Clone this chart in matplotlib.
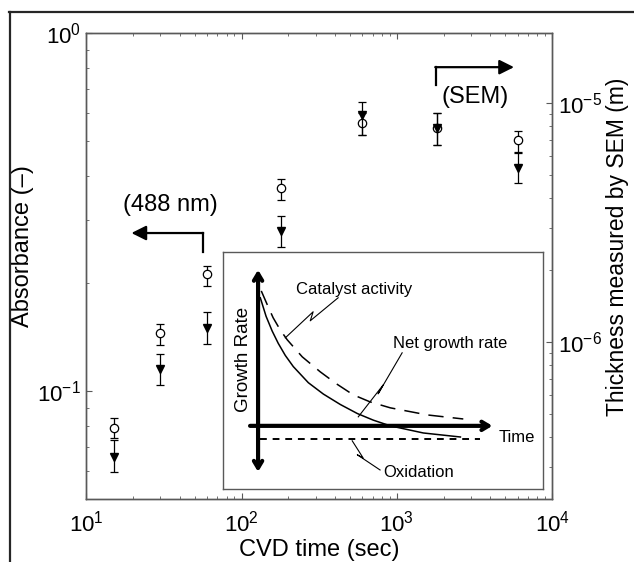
import numpy as np
import matplotlib
matplotlib.use("Agg")
import matplotlib.pyplot as plt
from matplotlib.lines import Line2D

plt.rcParams['font.family'] = ['Liberation Sans', 'DejaVu Sans']
plt.rcParams['mathtext.fontset'] = 'custom'
plt.rcParams['mathtext.rm'] = 'Liberation Sans'
plt.rcParams['mathtext.it'] = 'Liberation Sans:italic'
plt.rcParams['mathtext.bf'] = 'Liberation Sans:bold'

# CVD time (sec)
cvd_time = [15, 30, 60, 180, 600, 1800, 6000]

# absorbance at 488 nm (left axis), with error bar ends
absorbance = [0.0788, 0.145, 0.212, 0.370, 0.561, 0.544, 0.504]
absorbance_low = [0.074, 0.135, 0.197, 0.343, 0.520, 0.488, 0.463]
absorbance_high = [0.0841, 0.154, 0.224, 0.392, 0.599, 0.599, 0.533]

# thickness measured by SEM (m, right axis), with error bar ends
thickness = [3.30e-7, 7.71e-7, 1.146e-6, 2.91e-6, 8.91e-6, 7.86e-6, 5.35e-6]
thickness_low = [2.86e-7, 6.61e-7, 9.82e-7, 2.49e-6, 7.35e-6, 6.67e-6, 4.63e-6]
thickness_high = [3.89e-7, 8.91e-7, 1.337e-6, 3.37e-6, 1.01e-5, 9.08e-6, 6.24e-6]

# schematic inset (arbitrary time / rate units)
catalyst_t = [0.010, 0.029, 0.047, 0.069, 0.091, 0.138, 0.194, 0.244, 0.297, 0.350, 0.413, 0.529, 0.641]
catalyst_rate = [0.569, 0.510, 0.456, 0.405, 0.363, 0.291, 0.228, 0.178, 0.131, 0.101, 0.076, 0.046, 0.029]
net_t = [0.007, 0.025, 0.044, 0.063, 0.085, 0.110, 0.157, 0.204, 0.257, 0.310, 0.360, 0.413, 0.516, 0.632]
net_rate = [0.540, 0.462, 0.400, 0.348, 0.297, 0.250, 0.182, 0.134, 0.090, 0.052, 0.024, 0.000, -0.030, -0.047]
oxidation_t = [0.007, 0.694]
oxidation_rate = [-0.055, -0.055]


def err(v, lo, hi):
    v = np.array(v)
    return [v - np.array(lo), np.array(hi) - v]


fig = plt.figure(figsize=(6.34, 5.62), dpi=100)
ax = fig.add_axes([0.136, 0.112, 0.735, 0.829])
ax2 = ax.twinx()

frame_col = '0.35'
ax.errorbar(cvd_time, absorbance, yerr=err(absorbance, absorbance_low, absorbance_high),
            fmt='o', mfc='white', mec='black', mew=0.9, ms=6, ecolor='black',
            elinewidth=0.9, capsize=3, capthick=0.9, zorder=3)
ax2.errorbar(cvd_time, thickness, yerr=err(thickness, thickness_low, thickness_high),
             fmt='v', mfc='black', mec='black', ms=6, ecolor='black',
             elinewidth=0.9, capsize=3, capthick=0.9, zorder=3)

ax.set_xscale('log')
ax.set_yscale('log')
ax2.set_yscale('log')
ax.set_xlim(10, 1e4)
ax.set_ylim(0.05, 1)
ax2.set_ylim(2.2e-7, 1.96e-5)

for a in (ax, ax2):
    for s in a.spines.values():
        s.set_color(frame_col)
        s.set_linewidth(1.0)
ax.tick_params(which='both', direction='in', top=True, right=False, color=frame_col,
               labelsize=16, pad=4)
ax.tick_params(which='major', length=4.5)
ax.tick_params(which='minor', length=2.5)
ax.tick_params(axis='x', pad=8)
ax2.tick_params(which='both', direction='in', color=frame_col, labelsize=16, pad=4)
ax2.tick_params(which='major', length=4.5)
ax2.tick_params(which='minor', length=2.5)

ax.set_xlabel('CVD time (sec)', fontsize=17, labelpad=2)
ax.set_ylabel('Absorbance (\u2013)', fontsize=17)
ax.yaxis.set_label_coords(-0.112, 0.543)
ax2.set_ylabel('Thickness measured by SEM (m)', fontsize=16.5, va='center')
ax2.yaxis.set_label_coords(1.141, 0.541)

# direction arrows
ax.plot([0.250, 0.250], [0.530, 0.571], color='black', lw=1.6, transform=ax.transAxes)
ax.annotate('', xy=(0.097, 0.571), xytext=(0.251, 0.571), xycoords='axes fraction',
            arrowprops=dict(arrowstyle='-|>', color='black', lw=1.6, mutation_scale=22,
                            shrinkA=0, shrinkB=0))
ax.text(0.180, 0.631, '(488 nm)', transform=ax.transAxes, fontsize=17,
        ha='center', va='center')
ax.plot([0.750, 0.750], [0.888, 0.927], color='black', lw=1.6, transform=ax.transAxes)
ax.annotate('', xy=(0.918, 0.927), xytext=(0.749, 0.927), xycoords='axes fraction',
            arrowprops=dict(arrowstyle='-|>', color='black', lw=1.6, mutation_scale=22,
                            shrinkA=0, shrinkB=0))
ax.text(0.834, 0.863, '(SEM)', transform=ax.transAxes, fontsize=17,
        ha='center', va='center')

# inset schematic
ins = fig.add_axes([0.352, 0.130, 0.505, 0.422], zorder=5)
ins.set_xlim(-0.109, 0.891)
ins.set_ylim(-0.266, 0.734)
ins.set_xticks([])
ins.set_yticks([])
for s in ins.spines.values():
    s.set_color(frame_col)
    s.set_linewidth(1.0)

ins.annotate('', xy=(0, 0.658), xytext=(0, -0.194),
             arrowprops=dict(arrowstyle='<->,head_length=0.5,head_width=0.3',
                             color='black', lw=3, shrinkA=0, shrinkB=0))
ins.annotate('', xy=(0.732, 0), xytext=(-0.025, 0),
             arrowprops=dict(arrowstyle='->,head_length=0.5,head_width=0.3',
                             color='black', lw=3, shrinkA=0, shrinkB=0))
ins.plot(catalyst_t, catalyst_rate, color='black', lw=1.1, dashes=(10, 6))
ins.plot(net_t, net_rate, color='black', lw=1.1)
ins.plot(oxidation_t, oxidation_rate, color='black', lw=1.4, dashes=(3.5, 3))

# zigzag leaders
ins.plot([0.250, 0.163, 0.172, 0.085], [0.540, 0.443, 0.481, 0.371], color='black', lw=0.8)
ins.plot([0.450, 0.375, 0.391, 0.313], [0.308, 0.135, 0.173, 0.038], color='black', lw=0.8)
ins.plot([0.294, 0.328, 0.310, 0.381], [-0.063, -0.135, -0.122, -0.186], color='black', lw=0.8)

ins.text(0.300, 0.574, 'Catalyst activity', fontsize=12, ha='center', va='center')
ins.text(0.600, 0.346, 'Net growth rate', fontsize=12, ha='center', va='center')
ins.text(0.807, -0.051, 'Time', fontsize=12, ha='center', va='center')
ins.text(0.500, -0.198, 'Oxidation', fontsize=12, ha='center', va='center')
ins.text(-0.047, 0.278, 'Growth Rate', fontsize=13.5, ha='center', va='center', rotation=90)

# outer frame of the original figure
fig.add_artist(Line2D([0.0145, 1.0], [0.978, 0.978], color='0.15', lw=1.6))
fig.add_artist(Line2D([0.0150, 0.0150], [0.0, 0.978], color='0.15', lw=1.6))

fig.savefig('out.png', dpi=100)
